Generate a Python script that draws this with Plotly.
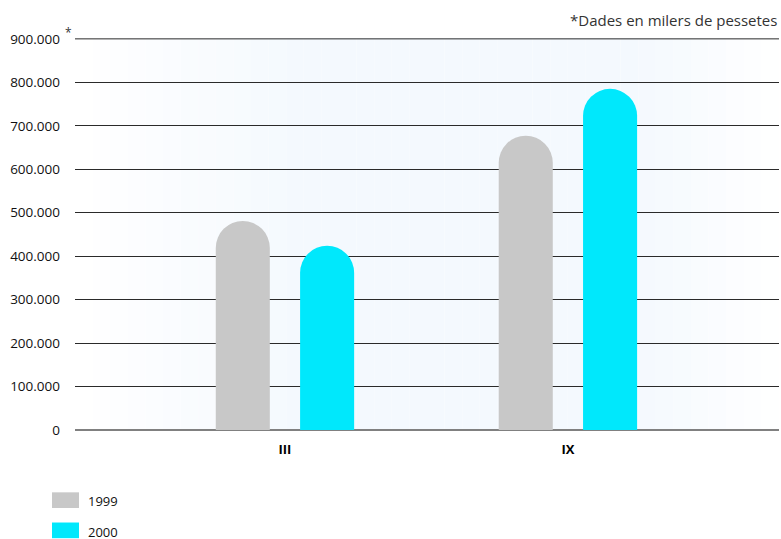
import plotly.graph_objects as go

categories = ["III", "IX"]
series_names = ["1999", "2000"]
values_1999 = [481000, 677000]
values_2000 = [424000, 785000]
colors = ["#c8c8c8", "#00e8fc"]
y_ticks = [0, 100000, 200000, 300000, 400000, 500000, 600000, 700000, 800000, 900000]
y_tick_labels = ["0", "100.000", "200.000", "300.000", "400.000", "500.000",
                 "600.000", "700.000", "800.000", "900.000"]
note = "*Dades en milers de pessetes"

FONT = "Open Sans"
xpos = [1, 2]

fig = go.Figure()
for name, vals, col, off in [(series_names[0], values_1999, colors[0], -0.149),
                             (series_names[1], values_2000, colors[1], 0.149)]:
    fig.add_trace(go.Bar(x=xpos, y=vals, name=name, marker=dict(color=col, line=dict(width=0)),
                         width=0.191, offset=off - 0.0955, showlegend=False))

# background gradient bands
shapes = []
n = 40
for i in range(n):
    x0 = i / n
    x1 = (i + 1) / n
    c = (x0 + x1) / 2
    if c < 0.32:
        t = c / 0.32
    elif c > 0.80:
        t = (1 - c) / 0.20
    else:
        t = 1.0
    t = max(0, min(1, t))
    r = round(255 - t * (255 - 244))
    g = round(255 - t * (255 - 249))
    b = round(255 - t * (255 - 254))
    shapes.append(dict(type="rect", xref="paper", yref="paper", x0=x0, x1=x1, y0=0, y1=1,
                       fillcolor=f"rgb({r},{g},{b})", line=dict(width=0), layer="below"))

# top gridline (at the last tick)
shapes.append(dict(type="line", xref="paper", yref="y", x0=0, x1=1,
                   y0=y_ticks[-1], y1=y_ticks[-1], line=dict(color="#2a2a2a", width=1)))

# custom legend swatches
legend_y = [-0.179, -0.256]
for yc, col in zip(legend_y, colors):
    shapes.append(dict(type="rect", xref="paper", yref="paper",
                       x0=-0.0327, x1=0.0057, y0=yc - 0.02, y1=yc + 0.02,
                       fillcolor=col, line=dict(width=0)))

annotations = [
    dict(text=note, xref="paper", yref="paper", x=1.0, y=1.0, yshift=6, xanchor="right",
         yanchor="bottom", showarrow=False, font=dict(family=FONT, size=15, color="#333333")),
    dict(text="*", xref="paper", yref="paper", x=0, y=1, xshift=-7, yshift=-5, xanchor="center",
         yanchor="bottom", showarrow=False, font=dict(family=FONT, size=12, color="#333333")),
]
for yc, name in zip(legend_y, series_names):
    annotations.append(dict(text=name, xref="paper", yref="paper", x=0.0156, y=yc - 0.003,
                            xanchor="left", yanchor="middle", showarrow=False,
                            font=dict(family=FONT, size=13, color="#111111")))

fig.update_layout(
    width=781, height=539,
    margin=dict(l=75, r=2, t=38, b=109),
    paper_bgcolor="white", plot_bgcolor="rgba(0,0,0,0)",
    barcornerradius=27,
    font=dict(family=FONT, size=13, color="#111111"),
    xaxis=dict(range=[0.258, 2.746], tickmode="array", tickvals=xpos, ticktext=categories,
               tickfont=dict(family=FONT, size=13, color="#000000", weight="bold"),
               showgrid=False, zeroline=False, showline=False, ticks="", ticklen=0,
               ticklabelstandoff=10),
    yaxis=dict(range=[0, 902000], tickmode="array", tickvals=y_ticks, ticktext=y_tick_labels,
               showgrid=True, gridcolor="#2a2a2a", gridwidth=1, zeroline=True,
               zerolinecolor="#808080", zerolinewidth=2, ticks="", ticklabelstandoff=14,
               tickfont=dict(family=FONT, size=13.5, color="#111111")),
    shapes=shapes, annotations=annotations,
)
fig.write_html("out.html", config={"displayModeBar": False},
               post_script="document.body.style.margin='0';")
